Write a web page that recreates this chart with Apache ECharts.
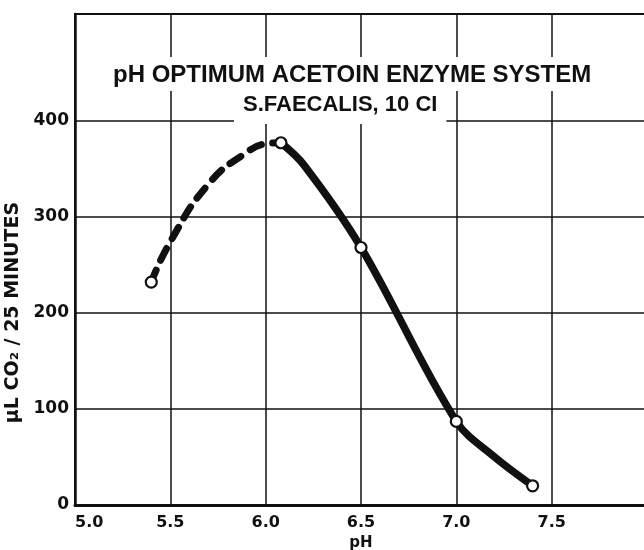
<!DOCTYPE html>
<html>
<head>
<meta charset="utf-8">
<script src="https://cdn.jsdelivr.net/npm/echarts@6/dist/echarts.min.js"></script>
<style>
  html, body { margin: 0; padding: 0; background: #fff; }
  #chart { width: 644px; height: 550px; }
</style>
</head>
<body>
<div id="chart"></div>
<script>
// measured points (open circles)
const pointPH = [5.4, 6.08, 6.5, 7.0, 7.4];
const pointCO2 = [232, 377, 268, 87, 20];

// dashed part of the hand drawn curve
const dashedPH = [5.4, 5.5, 5.7, 5.9, 6.0, 6.06];
const dashedCO2 = [232, 274, 334, 367, 376, 377];

// solid part of the curve
const solidPH = [6.08, 6.2, 6.5, 7.0, 7.2, 7.4];
const solidCO2 = [377, 354, 268, 87, 50, 20];

// horizontal rulings of the graph paper
const gridCO2 = [100, 200, 300, 400];

const titleLine1 = 'pH OPTIMUM ACETOIN ENZYME SYSTEM';
const titleLine2 = 'S.FAECALIS, 10 CI';

const pairs = (xs, ys) => xs.map((x, i) => [x, ys[i]]);

const ink = '#111';
const chart = echarts.init(document.getElementById('chart'));
chart.setOption({
  backgroundColor: '#fff',
  animation: false,
  title: [
    {
      text: titleLine1,
      left: 104, top: 57,
      padding: [6, 9, 4, 9],
      backgroundColor: '#fff',
      textStyle: { fontFamily: 'Liberation Sans', fontWeight: 'bold', fontSize: 24, color: ink }
    },
    {
      text: titleLine2,
      left: 234, top: 90,
      padding: [4, 9, 8, 9],
      backgroundColor: '#fff',
      textStyle: { fontFamily: 'Liberation Sans', fontWeight: 'bold', fontSize: 22, color: ink }
    }
  ],
  grid: {
    left: 75, top: 14, bottom: 45, right: -3,
    containLabel: false, outerBoundsMode: 'none',
    show: true, borderColor: ink, borderWidth: 2, backgroundColor: 'transparent'
  },
  xAxis: {
    type: 'value', min: 5, max: 8, interval: 0.5,
    name: 'pH', nameLocation: 'middle', nameGap: 26,
    nameTextStyle: { fontFamily: 'DejaVu Sans', fontWeight: 'bold', fontSize: 15, color: ink },
    axisLine: { show: true, lineStyle: { color: ink, width: 3 } },
    axisTick: { show: false },
    axisLabel: {
      margin: 10, showMaxLabel: false, alignMinLabel: 'left',
      fontFamily: 'DejaVu Sans', fontWeight: 'bold', fontSize: 16, color: ink,
      formatter: v => v.toFixed(1)
    },
    splitLine: { show: true, lineStyle: { color: ink, width: 1.5 } }
  },
  yAxis: {
    type: 'value', min: 0, max: 511, interval: 100,
    name: 'μL CO₂ / 25 MINUTES', nameLocation: 'middle', nameGap: 46,
    nameTextStyle: {
      fontFamily: 'DejaVu Sans', fontWeight: 'bold', fontSize: 19, color: ink,
      padding: [0, 106, 0, 0]
    },
    axisLine: { show: true, lineStyle: { color: ink, width: 2.5 } },
    axisTick: { show: false },
    axisLabel: {
      margin: 6, fontFamily: 'DejaVu Sans', fontWeight: 'bold', fontSize: 17, color: ink,
      formatter: v => (v > 400 ? '' : String(v))
    },
    splitLine: { show: false }
  },
  series: [
    {
      type: 'line', data: pairs(dashedPH, dashedCO2), smooth: 0.5, symbol: 'none',
      lineStyle: { color: ink, width: 7, type: [13, 11], cap: 'round' },
      markLine: {
        silent: true, symbol: 'none', label: { show: false },
        lineStyle: { color: ink, width: 1.5, type: 'solid' },
        data: gridCO2.map(v => ({ yAxis: v }))
      },
      z: 3
    },
    {
      type: 'line', data: pairs(solidPH, solidCO2), smooth: 0.35, symbol: 'none',
      lineStyle: { color: ink, width: 7.5, cap: 'round', join: 'round' },
      z: 3
    },
    {
      type: 'scatter', data: pairs(pointPH, pointCO2), symbol: 'circle', symbolSize: 11,
      itemStyle: { color: '#fff', borderColor: ink, borderWidth: 2.2, opacity: 1 },
      z: 5
    }
  ]
});
</script>
</body>
</html>
